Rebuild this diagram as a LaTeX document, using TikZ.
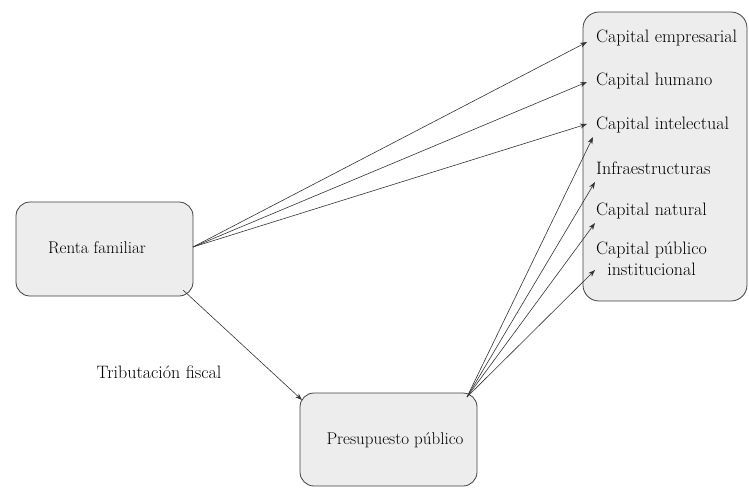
\documentclass[tikz,border=0pt]{standalone}
\usetikzlibrary{arrows.meta}
\begin{document}
\begin{tikzpicture}[x=1pt,y=-1pt,
  box/.style={draw=black!75, line width=0.8pt, fill=black!7, rounded corners=14pt},
  boxtxt/.style={font=\fontsize{17}{19}\selectfont},
  lbl/.style={font=\fontsize{18}{21}\selectfont, anchor=west, inner sep=0pt},
  arr/.style={draw=black!80, line width=0.6pt, -{Stealth[length=7pt,width=5pt]}}]
\useasboundingbox (0,0) rectangle (749,488);
% boxes
\draw[box] (16,202) rectangle (193,296);
\node[boxtxt] (renta) at (97,248) {Renta familiar};
\coordinate (rentaR) at (193,247);
\coordinate (rentaB) at (183,290);
\draw[box] (300,393) rectangle (477,486);
\node[boxtxt] (pres) at (395,440) {Presupuesto público};
\coordinate (presTR) at (467,397);
\coordinate (presTL) at (302,400);
\draw[box, rounded corners=16pt] (583,12) rectangle (747,301);
% labels
\node[lbl] (c1) at (596,38) {Capital empresarial};
\node[lbl] (c2) at (596,81) {Capital humano};
\node[lbl] (c3) at (596,125) {Capital intelectual};
\node[lbl] (c4) at (596,168) {Infraestructuras};
\node[lbl] (c5) at (596,211) {Capital natural};
\node[lbl, align=center, anchor=north west] (c6) at (596,242) {Capital público\\institucional};
\node[font=\fontsize{18}{21}\selectfont] (trib) at (159,372) {Tributación fiscal};
% arrow end points
\coordinate (e1) at (587,42);
\coordinate (e2) at (587,82);
\coordinate (e3) at (587,124);
\coordinate (f1) at (593,137);
\coordinate (f2) at (595,182);
\coordinate (f3) at (595,223);
\coordinate (f4) at (595,270);
% arrows
\draw[arr] (rentaR) -- (e1);
\draw[arr] (rentaR) -- (e2);
\draw[arr] (rentaR) -- (e3);
\draw[arr] (rentaB) -- (presTL);
\draw[arr] (presTR) -- (f1);
\draw[arr] (presTR) -- (f2);
\draw[arr] (presTR) -- (f3);
\draw[arr] (presTR) -- (f4);
\end{tikzpicture}
\end{document}
